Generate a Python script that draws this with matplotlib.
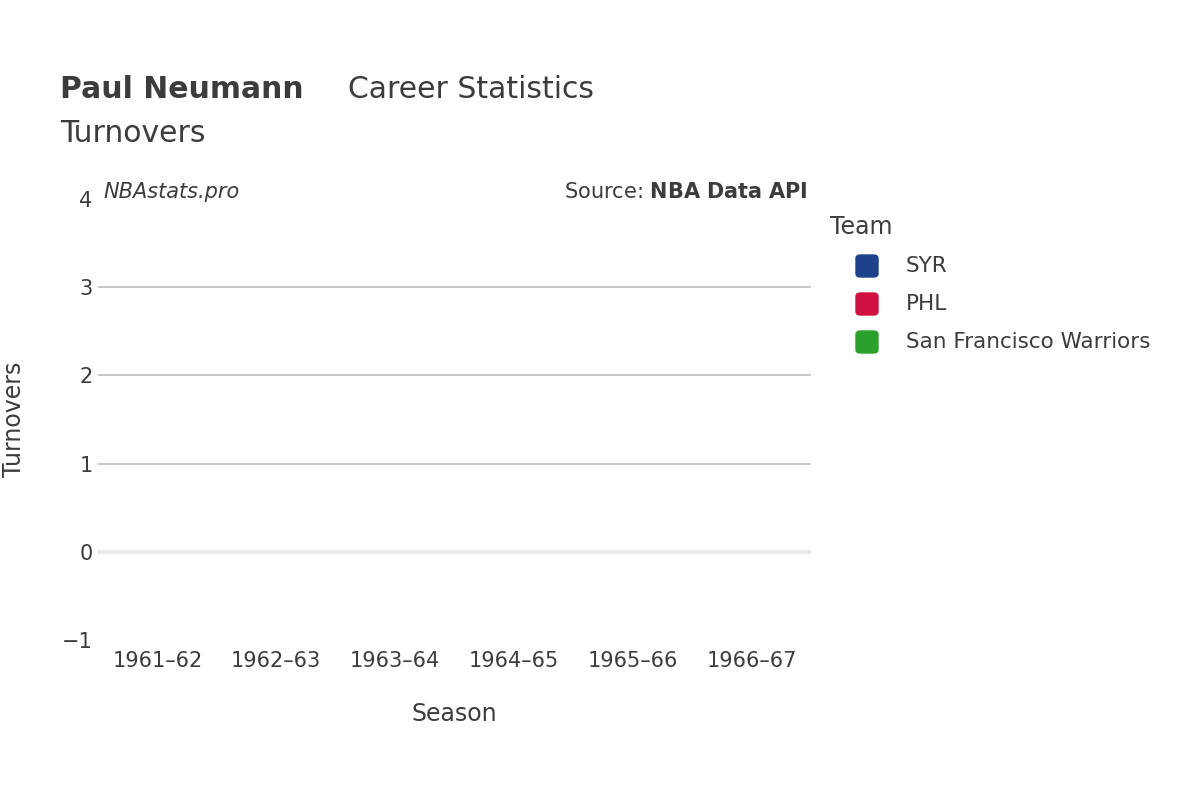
import matplotlib
matplotlib.use("Agg")
import matplotlib.pyplot as plt
from matplotlib.patches import FancyBboxPatch

seasons = ["1961–62", "1962–63", "1963–64", "1964–65", "1965–66", "1966–67"]
teams = ["SYR", "PHL", "San Francisco Warriors"]
team_colors = ["#1d428a", "#ce1141", "#2ca02c"]
yticks = [-1, 0, 1, 2, 3, 4]

plt.rcParams['font.family'] = ['DejaVu Sans']
fig = plt.figure(figsize=(12, 8), dpi=100)
ax = fig.add_axes([98/1200, 0.2, 713/1200, 441/800])
ax.set_xlim(-0.5, len(seasons) - 0.5)
ax.set_ylim(-1, 4)
ax.set_xticks(range(len(seasons)))
ax.set_xticklabels(seasons)
ax.set_yticks(yticks)
ax.set_yticklabels(["−1", "0", "1", "2", "3", "4"])
for y in [1, 2, 3]:
    ax.axhline(y, color="#bdbdbd", lw=1.2, zorder=0)
ax.axhline(0, color="#ebebeb", lw=3, zorder=0)
for s in ax.spines.values():
    s.set_visible(False)
ax.tick_params(length=0, labelsize=15, colors="#3c3c3c", pad=4)
ax.tick_params(axis="x", pad=8)
ax.set_xlabel("Season", fontsize=17, color="#3c3c3c", labelpad=22)
ax.set_ylabel("Turnovers", fontsize=17, color="#3c3c3c", labelpad=26)

fig.text(60/1200, 1-89/800, "Paul Neumann", fontsize=21.5, weight="bold", color="#3c3c3c", va="center")
fig.text(348/1200, 1-89/800, "Career Statistics", fontsize=21.5, color="#3c3c3c", va="center")
fig.text(60/1200, 1-133/800, "Turnovers", fontsize=21.5, color="#3c3c3c", va="center")
fig.text(103/1200, 1-192/800, "NBAstats.pro", fontsize=15, style="italic", color="#3c3c3c", va="center")
fig.text(808/1200, 1-192/800, "Source: $\\bf{NBA\\ Data\\ API}$", fontsize=15, color="#3c3c3c", va="center", ha="right")

fig.text(830/1200, 1-227/800, "Team", fontsize=17, color="#3c3c3c", va="center")
for i, (t, c) in enumerate(zip(teams, team_colors)):
    yc = 266 + i * 38
    fig.patches.append(FancyBboxPatch(((856)/1200, 1-(yc+11)/800), 22/1200, 22/800,
                                      boxstyle="round,pad=0,rounding_size=0.004",
                                      transform=fig.transFigure, color=c))
    fig.text(906/1200, 1-yc/800, t, fontsize=15.5, color="#3c3c3c", va="center")

fig.savefig("out.png", dpi=100)
